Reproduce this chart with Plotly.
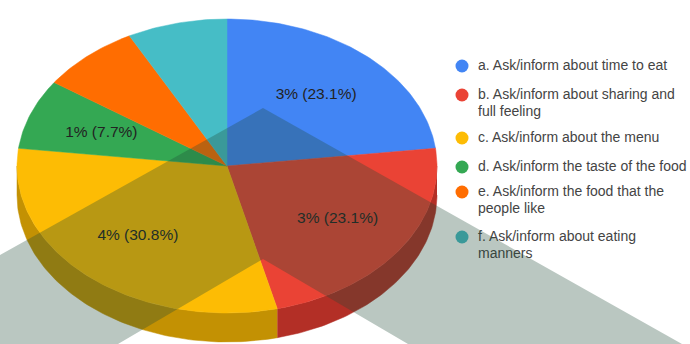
import math
import plotly.graph_objects as go

# Survey responses per category
categories = [
    ["a. Ask/inform about time to eat"],
    ["b. Ask/inform about sharing and", "full feeling"],
    ["c. Ask/inform about the menu"],
    ["d. Ask/inform the taste of the food"],
    ["e. Ask/inform the food that the", "people like"],
    ["f. Ask/inform about eating", "manners"],
]
shares = [23.1, 23.1, 30.8, 7.7, 7.7, 7.7]
slice_labels = ["3% (23.1%)", "3% (23.1%)", "4% (30.8%)", "1% (7.7%)", "", ""]
top_colors = ["#4285f4", "#ea4335", "#fdbc04", "#34a853", "#ff6d01", "#46bdc6"]
side_colors = ["#2f5fae", "#b32f26", "#c39103", "#267a3c", "#c25200", "#338a91"]
legend_rows = [66, 95, 138, 167, 192, 237]

# Tilted pie geometry, in page pixels
CX, CY, RX, RY, DEPTH = 227, 166, 210, 147, 29
LINE_GAP = 17


def rim(deg, drop=0):
    a = math.radians(deg)
    return CX + RX * math.sin(a), CY - RY * math.cos(a) + drop


def arc(start, end, drop=0):
    n = max(2, int(abs(end - start)) + 1)
    return [rim(start + (end - start) * i / (n - 1), drop) for i in range(n)]


def area(points, color):
    return go.Scatter(
        x=[p[0] for p in points], y=[p[1] for p in points],
        mode="lines", fill="toself", fillcolor=color,
        line=dict(color=color, width=0.5), hoverinfo="skip", showlegend=False,
    )


fig = go.Figure()
total = sum(shares)
edges = [0]
for s in shares:
    edges.append(edges[-1] + s / total * 360)

# Wall of the pie: only the front half of the rim is visible
for i, color in enumerate(side_colors):
    lo, hi = max(edges[i], 90), min(edges[i + 1], 270)
    if lo < hi:
        fig.add_trace(area(arc(lo, hi) + arc(hi, lo, DEPTH), color))

# Top face
for i, color in enumerate(top_colors):
    fig.add_trace(area([(CX, CY)] + arc(edges[i], edges[i + 1]) + [(CX, CY)], color))

# Value labels at the middle of each slice
for i, text in enumerate(slice_labels):
    if text:
        mx, my = rim((edges[i] + edges[i + 1]) / 2)
        fig.add_trace(go.Scatter(
            x=[CX + 0.64 * (mx - CX)], y=[CY + 0.64 * (my - CY)],
            mode="text", text=[text], textposition="middle center",
            textfont=dict(family="Liberation Sans", size=15.5, color="#222222"),
            hoverinfo="skip", showlegend=False,
        ))

# Legend column
for lines, row, color in zip(categories, legend_rows, top_colors):
    fig.add_trace(go.Scatter(
        x=[462], y=[row], mode="markers",
        marker=dict(size=13, color=color), hoverinfo="skip", showlegend=False,
    ))
    fig.add_trace(go.Scatter(
        x=[478] * len(lines), y=[row + LINE_GAP * k for k in range(len(lines))],
        mode="text", text=lines, textposition="middle right",
        textfont=dict(family="Liberation Sans", size=14, color="#444444"),
        hoverinfo="skip", showlegend=False,
    ))

# Translucent chevron band laid across the whole figure
band = "M 263 108 L 682 344 L 408 344 L 263 259 L 118 344 L 0 344 L 0 255 Z"
fig.add_shape(type="path", path=band, xref="x", yref="y", layer="above",
              fillcolor="rgb(32,74,55)", opacity=0.31, line=dict(width=0))

fig.update_xaxes(range=[0, 690], visible=False, fixedrange=True)
fig.update_yaxes(range=[344, 0], visible=False, fixedrange=True)
fig.update_layout(
    width=690, height=344, margin=dict(l=0, r=0, t=0, b=0),
    paper_bgcolor="white", plot_bgcolor="white",
)
fig.write_html("out.html", config=dict(displayModeBar=False))
